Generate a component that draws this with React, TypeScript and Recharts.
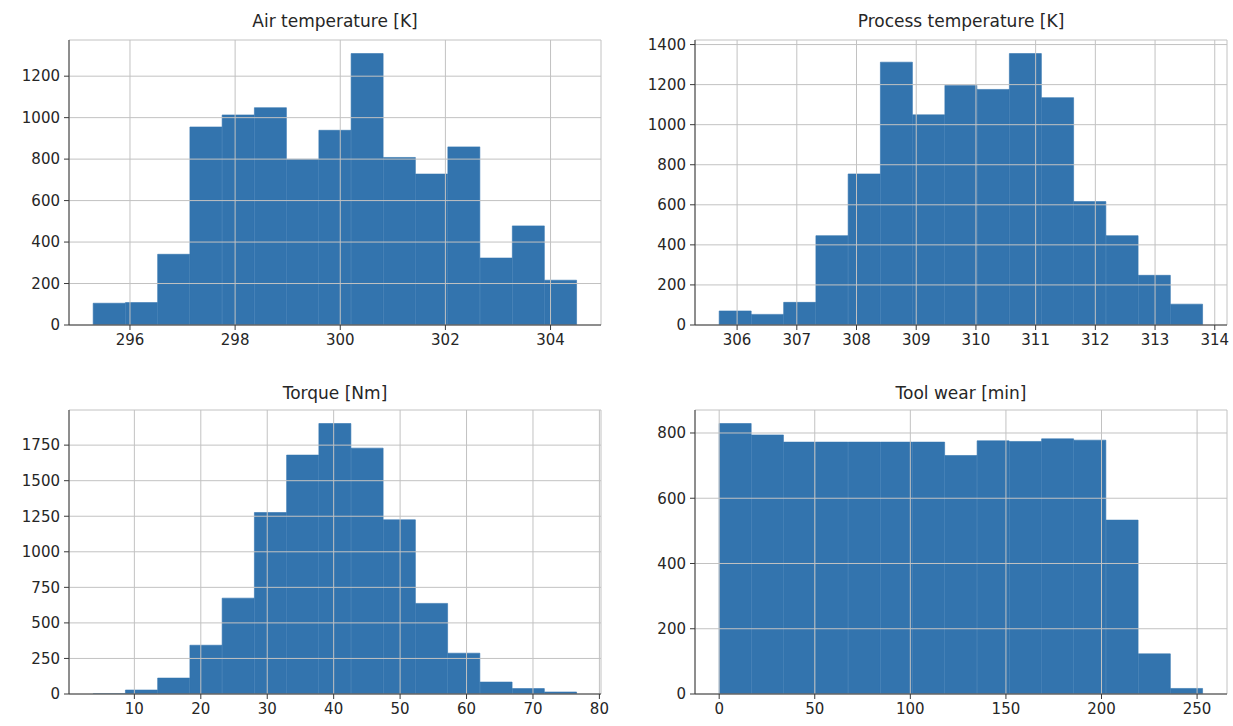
import React from "react";
import { BarChart, Bar, XAxis, YAxis, CartesianGrid } from "recharts";

// histogram bin ranges [first edge, last edge] and counts per bin (15 bins each)
const airRange = [295.3, 304.5];
const airCounts = [105, 108, 341, 955, 1013, 1048, 799, 939, 1309, 808, 728, 859, 323, 478, 216];
const airXTicks = [296, 298, 300, 302, 304];
const airYTicks = [0, 200, 400, 600, 800, 1000, 1200];

const procRange = [305.7, 313.8];
const procCounts = [70, 53, 113, 446, 754, 1312, 1049, 1196, 1176, 1355, 1135, 616, 446, 248, 104];
const procXTicks = [306, 307, 308, 309, 310, 311, 312, 313, 314];
const procYTicks = [0, 200, 400, 600, 800, 1000, 1200, 1400];

const torqueRange = [3.8, 76.6];
const torqueCounts = [1, 28, 112, 343, 674, 1276, 1680, 1902, 1729, 1225, 637, 287, 84, 38, 14];
const torqueXTicks = [10, 20, 30, 40, 50, 60, 70, 80];
const torqueYTicks = [0, 250, 500, 750, 1000, 1250, 1500, 1750];

const wearRange = [0, 253];
const wearCounts = [829, 794, 772, 772, 772, 772, 772, 731, 776, 774, 782, 778, 533, 123, 17];
const wearXTicks = [0, 50, 100, 150, 200, 250];
const wearYTicks = [0, 200, 400, 600, 800];

const FONT = "'DejaVu Sans', sans-serif";
const BLUE = "#3374ae";
const GRID = "#c2c2c2";
const FRAME = "#3a3a3a";
const TEXT = "#262626";

function toBins(range: number[], counts: number[]) {
  const w = (range[1] - range[0]) / counts.length;
  return counts.map((count, i) => ({ mid: range[0] + w * (i + 0.5), count }));
}

// matplotlib style 5% margins around the data
function pad(range: number[]): [number, number] {
  const m = (range[1] - range[0]) * 0.05;
  return [range[0] - m, range[1] + m];
}

type HistProps = {
  title: string;
  range: number[];
  counts: number[];
  xTicks: number[];
  yTicks: number[];
  left: number;
  top: number;
  width: number;
  height: number;
  axisW: number;
  rightGap: number;
  bottomH: number;
  titleTop: number;
};

function Hist({ title, range, counts, xTicks, yTicks, left, top, width, height, axisW, rightGap, bottomH, titleTop }: HistProps) {
  const data = toBins(range, counts);
  const yMax = Math.max(...counts) * 1.05;
  const tick = { fill: TEXT, fontSize: 15, fontFamily: FONT };
  const plotW = width - axisW - rightGap;
  return (
    <div style={{ position: "absolute", left, top, width, height }}>
      <div
        style={{
          position: "absolute",
          left: axisW,
          width: plotW,
          top: titleTop,
          textAlign: "center",
          fontFamily: FONT,
          fontSize: 17,
          color: TEXT,
          lineHeight: "20px"
        }}
      >
        {title}
      </div>
      <BarChart
        width={width}
        height={height}
        data={data}
        margin={{ top: 40, right: rightGap, bottom: 0, left: 0 }}
        barCategoryGap={0}
        barGap={0}
      >
        <XAxis
          dataKey="mid"
          type="number"
          domain={pad(range)}
          allowDataOverflow
          ticks={xTicks}
          interval={0}
          tick={tick}
          tickSize={5}
          tickMargin={4}
          height={bottomH}
          stroke={FRAME}
          tickLine={{ stroke: FRAME }}
          axisLine={{ stroke: FRAME }}
        />
        <XAxis xAxisId="top" orientation="top" type="number" domain={pad(range)} allowDataOverflow height={0} tick={false} tickLine={false} axisLine={{ stroke: FRAME }} />
        <YAxis
          type="number"
          domain={[0, yMax]}
          allowDataOverflow
          ticks={yTicks}
          interval={0}
          tick={tick}
          tickSize={5}
          tickMargin={4}
          width={axisW}
          tickLine={{ stroke: FRAME }}
          axisLine={{ stroke: FRAME }}
        />
        <YAxis yAxisId="right" orientation="right" type="number" domain={[0, yMax]} width={0} tick={false} tickLine={false} axisLine={{ stroke: FRAME }} />
        <Bar dataKey="count" fill={BLUE} stroke={BLUE} strokeWidth={0.6} isAnimationActive={false} />
        {/* grid drawn over the bars, as matplotlib does */}
        <CartesianGrid stroke={GRID} strokeWidth={1} zIndex={350} />
      </BarChart>
    </div>
  );
}

export default function App() {
  return (
    <div style={{ position: "absolute", left: 0, top: 0, width: 1233, height: 726, background: "#fff", overflow: "hidden" }}>
      <Hist title="Air temperature [K]" range={airRange} counts={airCounts} xTicks={airXTicks} yTicks={airYTicks}
        left={0} top={0} width={616} height={362} axisW={69} rightGap={15} bottomH={37} titleTop={11} />
      <Hist title="Process temperature [K]" range={procRange} counts={procCounts} xTicks={procXTicks} yTicks={procYTicks}
        left={616} top={0} width={617} height={362} axisW={79} rightGap={6} bottomH={37} titleTop={11} />
      <Hist title="Torque [Nm]" range={torqueRange} counts={torqueCounts} xTicks={torqueXTicks} yTicks={torqueYTicks}
        left={0} top={370} width={616} height={356} axisW={69} rightGap={15} bottomH={32} titleTop={13} />
      <Hist title="Tool wear [min]" range={wearRange} counts={wearCounts} xTicks={wearXTicks} yTicks={wearYTicks}
        left={616} top={370} width={617} height={356} axisW={79} rightGap={6} bottomH={32} titleTop={13} />
    </div>
  );
}
